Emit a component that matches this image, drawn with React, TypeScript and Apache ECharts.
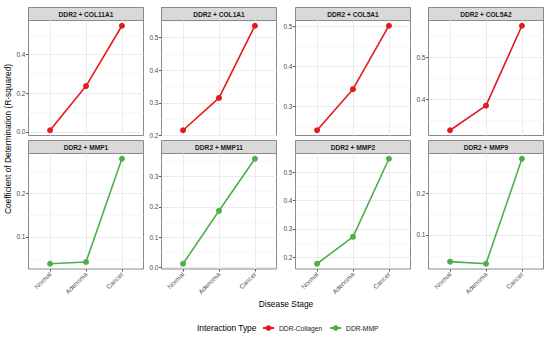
import React, { useEffect, useRef } from "react";
import * as echarts from "echarts";

const stages = ["Normal", "Adenoma", "Cancer"];
const panelTitles = [
  "DDR2 + COL11A1", "DDR2 + COL1A1", "DDR2 + COL5A1", "DDR2 + COL5A2",
  "DDR2 + MMP1", "DDR2 + MMP11", "DDR2 + MMP2", "DDR2 + MMP9",
];
const panelTypes = [
  "DDR-Collagen", "DDR-Collagen", "DDR-Collagen", "DDR-Collagen",
  "DDR-MMP", "DDR-MMP", "DDR-MMP", "DDR-MMP",
];
const col11a1 = [0.008, 0.236, 0.547];
const col1a1 = [0.216, 0.315, 0.536];
const col5a1 = [0.24, 0.343, 0.502];
const col5a2 = [0.325, 0.384, 0.576];
const mmp1 = [0.039, 0.043, 0.278];
const mmp11 = [0.013, 0.187, 0.358];
const mmp2 = [0.177, 0.272, 0.547];
const mmp9 = [0.036, 0.031, 0.282];
const panelValues = [col11a1, col1a1, col5a1, col5a2, mmp1, mmp11, mmp2, mmp9];

const majorTicks = [
  [0, 0.2, 0.4],
  [0.2, 0.3, 0.4, 0.5],
  [0.3, 0.4, 0.5],
  [0.4, 0.5],
  [0.1, 0.2],
  [0, 0.1, 0.2, 0.3],
  [0.2, 0.3, 0.4, 0.5],
  [0.1, 0.2],
];
const minorTicks = [
  [0.1, 0.3, 0.5],
  [0.25, 0.35, 0.45, 0.55],
  [0.25, 0.35, 0.45],
  [0.35, 0.45, 0.55],
  [0.05, 0.15, 0.25],
  [0.05, 0.15, 0.25, 0.35],
  [0.25, 0.35, 0.45, 0.55],
  [0.05, 0.15, 0.25],
];

const typeColors: Record<string, string> = {
  "DDR-Collagen": "#E41A1C",
  "DDR-MMP": "#4DAF4A",
};

const FONT = "Liberation Sans, Arial, sans-serif";

export default function App() {
  const ref = useRef<HTMLDivElement>(null);
  useEffect(() => {
    if (!ref.current) return;
    document.body.style.margin = "0";
    const chart = echarts.init(ref.current, undefined, { renderer: "svg" });

    const lefts = [28.5, 161.5, 295.5, 428.5];
    const panelW = 115;
    const stripTops = [7.5, 140.5];
    const stripH = 13;
    const plotHs = [115, 115.5];

    const grids: any[] = [];
    const xAxes: any[] = [];
    const yAxes: any[] = [];
    const series: any[] = [];
    const graphics: any[] = [];

    panelValues.forEach((vals, i) => {
      const row = Math.floor(i / 4);
      const col = i % 4;
      const left = lefts[col];
      const top = stripTops[row] + stripH;
      const h = plotHs[row];
      grids.push({
        left, top, width: panelW, height: h,
        show: true, borderColor: "#8a8a8a", borderWidth: 1, backgroundColor: "#fff",
      });
      const isBottom = row === 1;
      xAxes.push({
        gridIndex: i, type: "value", min: -0.6, max: 2.6, position: "bottom",
        axisLine: { show: false, onZero: false },
        axisTick: { show: isBottom, length: 2.5, lineStyle: { color: "#555" }, customValues: [0, 1, 2] },
        axisLabel: {
          show: isBottom, customValues: [0, 1, 2], rotate: 45, margin: 4,
          fontSize: 6.5, color: "#4D4D4D", fontFamily: FONT,
          formatter: (v: number) => stages[Math.round(v)] ?? "",
        },
        splitLine: { show: true, lineStyle: { color: "#EBEBEB", width: 1 } },
      });
      const lo = Math.min(...vals), hi = Math.max(...vals);
      const pad = (hi - lo) * 0.05;
      const yMin = lo - pad, yMax = hi + pad;
      yAxes.push({
        gridIndex: i, type: "value", min: yMin, max: yMax, position: "left",
        axisLine: { show: false, onZero: false },
        axisTick: { show: true, length: 2.5, lineStyle: { color: "#555" }, customValues: majorTicks[i] },
        axisLabel: {
          customValues: majorTicks[i], margin: 3, fontSize: 6.5, color: "#4D4D4D", fontFamily: FONT,
          formatter: (v: number) => v.toFixed(1),
        },
        splitLine: { show: true, lineStyle: { color: "#EBEBEB", width: 1 } },
      });
      yAxes.push({
        gridIndex: i, type: "value", min: yMin, max: yMax, position: "right",
        axisLine: { show: false, onZero: false },
        axisTick: { show: false, customValues: minorTicks[i] },
        axisLabel: { show: false, customValues: minorTicks[i] },
        splitLine: { show: true, lineStyle: { color: "#F3F3F3", width: 0.6 } },
      });
      const type = panelTypes[i];
      series.push({
        name: type, type: "line", xAxisIndex: i, yAxisIndex: 2 * i,
        data: vals.map((v, k) => [k, v]),
        symbol: "circle", symbolSize: 6,
        lineStyle: { color: typeColors[type], width: 1.6 },
        itemStyle: { color: typeColors[type] },
        z: 5,
      });
      graphics.push({
        type: "rect",
        shape: { x: left, y: stripTops[row], width: panelW, height: stripH },
        style: { fill: "#D9D9D9", stroke: "#8a8a8a", lineWidth: 1 },
      });
      graphics.push({
        type: "text",
        x: left + panelW / 2, y: stripTops[row] + stripH / 2 + 0.5,
        style: {
          text: panelTitles[i], fill: "#1A1A1A", font: `bold 6.6px ${FONT}`,
          textAlign: "center", textVerticalAlign: "middle",
        },
      });
    });

    graphics.push({
      type: "text", x: 8, y: 139, rotation: Math.PI / 2,
      style: {
        text: "Coefficient of Determination (R-squared)", fill: "#000",
        font: `8.4px ${FONT}`, textAlign: "center", textVerticalAlign: "middle",
      },
    });
    graphics.push({
      type: "text", x: 286, y: 304,
      style: {
        text: "Disease Stage", fill: "#000", font: `8.4px ${FONT}`,
        textAlign: "center", textVerticalAlign: "middle",
      },
    });
    graphics.push({
      type: "text", x: 197, y: 328,
      style: {
        text: "Interaction Type", fill: "#000", font: `8.4px ${FONT}`,
        textAlign: "left", textVerticalAlign: "middle",
      },
    });

    chart.setOption({
      animation: false,
      backgroundColor: "#fff",
      grid: grids,
      xAxis: xAxes,
      yAxis: yAxes,
      series,
      legend: {
        left: 262, top: 324.5, orient: "horizontal", padding: 0,
        data: ["DDR-Collagen", "DDR-MMP"],
        itemWidth: 11, itemHeight: 7, itemGap: 7,
        textStyle: { fontSize: 6.7, color: "#1A1A1A", fontFamily: FONT },
      },
      graphic: graphics,
    });
    return () => chart.dispose();
  }, []);
  return <div ref={ref} style={{ width: 550, height: 337 }} />;
}
